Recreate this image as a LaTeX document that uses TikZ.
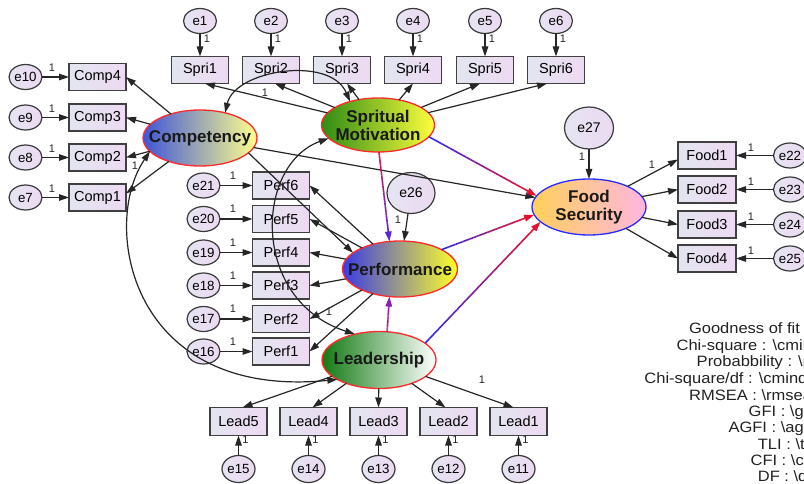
\documentclass[tikz,border=0pt]{standalone}
\usepackage{fontspec}
\setmainfont{Liberation Sans}
\newfontfamily\fitfont[FakeStretch=1.1]{Liberation Sans}
\usetikzlibrary{arrows.meta,shapes.geometric,calc}

\definecolor{boxL}{HTML}{E3E5F0}
\definecolor{boxR}{HTML}{EDDAF2}
\definecolor{boxdraw}{HTML}{404040}
\definecolor{errL}{HTML}{E6E4F2}
\definecolor{errR}{HTML}{EBDAF1}
\definecolor{errdraw}{HTML}{3A3A3A}
\definecolor{latred}{HTML}{FF2A2A}
\definecolor{fsblue}{HTML}{2A2AFF}
\definecolor{cmpL}{HTML}{3F55D8}
\definecolor{cmpR}{HTML}{FFFF8C}
\definecolor{spmL}{HTML}{2E8B14}
\definecolor{spmR}{HTML}{FFFF3C}
\definecolor{prfL}{HTML}{3A3AE6}
\definecolor{prfR}{HTML}{FFFF28}
\definecolor{ldrL}{HTML}{137A13}
\definecolor{ldrR}{HTML}{FFFFFF}
\definecolor{fsL}{HTML}{FFD05A}
\definecolor{fsM}{HTML}{FFA0A0}
\definecolor{fsR}{HTML}{FFB6E0}
\definecolor{gblue}{HTML}{2A2AF0}
\definecolor{gred}{HTML}{E8102E}
\definecolor{gcrim}{HTML}{D81848}
\definecolor{gviol}{HTML}{5A28E0}
\definecolor{gmag}{HTML}{B81878}
\definecolor{gpurp}{HTML}{8A20B0}
\definecolor{fittext}{HTML}{222222}

\tikzset{
  every node/.style={inner sep=0pt, outer sep=0pt},
  obs/.style={rectangle, draw=boxdraw, line width=1.5pt, minimum width=57pt, minimum height=27pt,
    left color=boxL, right color=boxR, font=\fontsize{14.5}{16}\selectfont},
  err/.style={ellipse, draw=errdraw, line width=1.2pt, minimum width=33pt, minimum height=25pt,
    inner xsep=-6pt, inner ysep=-4pt,
    left color=errL, right color=errR, font=\fontsize{13.3}{15}\selectfont},
  bigerr/.style={err, minimum width=48pt, minimum height=41pt, font=\fontsize{14}{16}\selectfont},
  lat/.style={ellipse, draw=latred, line width=1.3pt, minimum width=114pt, minimum height=56pt,
    inner xsep=-25pt, inner ysep=-15pt,
    font=\fontsize{17}{18}\selectfont\bfseries, align=center, text=black!90},
  arr/.style={line width=1.2pt, draw=black!85, -{Triangle[length=10pt,width=6.5pt]}},
  cov/.style={line width=1.2pt, draw=black!85, {Triangle[length=10pt,width=6.5pt]}-{Triangle[length=10pt,width=6.5pt]}},
  one/.style={font=\fontsize{11}{12}\selectfont, text=black!85},
  fitline/.style={font=\fitfont\fontsize{15}{16.6}\selectfont, text=fittext, anchor=base east},
}

\newcommand{\gradarrow}[5]{%
  \coordinate (ga) at (#1);
  \coordinate (gb) at ($(#2)!9pt!(#1)$);
  \foreach \gi in {0,...,23}{%
    \pgfmathsetmacro{\ta}{\gi/24}%
    \pgfmathsetmacro{\tb}{(\gi+1)/24}%
    \pgfmathtruncatemacro{\pc}{round(100*(\gi+0.5)/24)}%
    \draw[line width=1.6pt, color=#4!\pc!#3] ($(ga)!\ta!(gb)$) -- ($(ga)!\tb!(gb)$);
  }%
  \draw[line width=1.6pt, draw=#5, -{Triangle[length=10pt,width=6.5pt]}] ($(#2)!10.5pt!(#1)$) -- (#2);
}

\begin{document}
\begin{tikzpicture}[x=1pt,y=-1pt]
\useasboundingbox (0,0) rectangle (804,484);
\clip (0,0) rectangle (804,484);
\fill[white] (0,0) rectangle (804,484);

% ---------- latent variables ----------
\node[lat, left color=cmpL, right color=cmpR] (cmp) at (200,138) {Competency};
\node[lat, minimum width=113pt, minimum height=54pt, left color=spmL, right color=spmR] (spm) at (378,125) {Spritual\\Motivation};
\node[lat, minimum width=115pt, left color=prfL, right color=prfR] (prf) at (400,269) {Performance};
\node[lat, minimum height=57pt, left color=ldrL, right color=ldrR] (ldr) at (379,360) {Leadership};
\node[lat, draw=fsblue, left color=fsL, middle color=fsM, right color=fsR] (fsc) at (589,207) {Food\\Security};

\node[bigerr] (e26) at (411,193) {e26};
\node[bigerr, minimum width=49pt, minimum height=42pt] (e27) at (589,128) {e27};

% ---------- Spri ----------
\foreach \n/\x in {1/200,2/271,3/342,4/413,5/485,6/556}{
  \node[obs] (Spri\n) at (\x,70) {Spri\n};
  \node[err] (e\n) at (\x,21) {e\n};
  \draw[arr] (e\n) -- (Spri\n);
  \node[one] (l\n) at (\x+7,39) {1};
}

% ---------- Comp ----------
\foreach \n/\e/\y in {4/10/77,3/9/117.5,2/8/157.5,1/7/197.5}{
  \node[obs] (Comp\n) at (97.5,\y) {Comp\n};
  \node[err] (e\e) at (25.5,\y) {e\e};
  \draw[arr] (e\e) -- (Comp\n);
  \node[one] (l\e) at (52,\y-9) {1};
}

% ---------- Perf ----------
\foreach \n/\e/\y in {6/21/185.5,5/20/219,4/19/252.5,3/18/285.5,2/17/319,1/16/351.5}{
  \node[obs] (Perf\n) at (281,\y) {Perf\n};
  \node[err] (e\e) at (203.5,\y) {e\e};
  \draw[arr] (e\e) -- (Perf\n);
  \node[one] (l\e) at (233,\y-10) {1};
}

% ---------- Lead ----------
\foreach \n/\e/\x in {5/15/238.5,4/14/308.5,3/13/378.5,2/12/448.5,1/11/518.5}{
  \node[obs, minimum height=28pt] (Lead\n) at (\x,421.5) {Lead\n};
  \node[err, minimum height=27pt] (e\e) at (\x,469) {e\e};
  \draw[arr] (e\e) -- (Lead\n);
  \node[one] (l\e) at (\x+7,440) {1};
}

% ---------- Food ----------
\foreach \n/\e/\y in {1/22/155.5,2/23/189.5,3/24/224.5,4/25/258.5}{
  \node[obs, minimum width=58pt] (Food\n) at (707,\y) {Food\n};
  \node[err] (e\e) at (790,\y) {e\e};
  \draw[arr] (e\e) -- (Food\n);
  \node[one] (l\e) at (751,\y-8) {1};
}

% ---------- measurement paths ----------
\draw[arr] (spm) -- ([xshift=5pt]Spri1.south);
\draw[arr] (spm) -- ([xshift=4pt]Spri2.south);
\draw[arr] (spm) -- ([xshift=5pt]Spri3.south);
\draw[arr] (spm) -- (Spri4.south);
\draw[arr] (spm) -- ([xshift=-5pt]Spri5.south);
\draw[arr] (spm) -- ([xshift=-9pt]Spri6.south);

\draw[arr] (cmp) -- (Comp4.east);
\draw[arr] (cmp) -- (Comp3.east);
\draw[arr] (cmp) -- (Comp2.east);
\draw[arr] (cmp) -- ([yshift=4pt]Comp1.east);

\draw[arr] (prf) -- (Perf6.east);
\draw[arr] (prf) -- (Perf5.east);
\draw[arr] (prf) -- (Perf4.east);
\draw[arr] (prf) -- (Perf3.east);
\draw[arr] (prf) -- (Perf2.east);
\draw[arr] (prf) -- (Perf1.east);

\draw[arr] (ldr) -- ([xshift=4pt]Lead5.north);
\draw[arr] (ldr) -- ([xshift=4pt]Lead4.north);
\draw[arr] (ldr) -- (Lead3.north);
\draw[arr] (ldr) -- ([xshift=-3pt]Lead2.north);
\draw[arr] (ldr) -- ([xshift=-5pt]Lead1.north);

\draw[arr] (fsc) -- ([yshift=-4pt]Food1.west);
\draw[arr] (fsc) -- (Food2.west);
\draw[arr] (fsc) -- (Food3.west);
\draw[arr] (fsc) -- (Food4.west);

\draw[arr] (e26) -- (prf);
\draw[arr] (e27) -- (fsc);

% ---------- structural paths ----------
\draw[arr] (cmp.-17) -- (prf.161);
\draw[arr] (cmp) -- (fsc);
\gradarrow{spm.-88}{prf.111}{gcrim}{gviol}{gviol}
\gradarrow{spm.-13}{fsc.168}{gblue}{gred}{gred}
\gradarrow{prf.25}{fsc.188}{gblue}{gred}{gred}
\gradarrow{ldr.20}{fsc.197}{gblue}{gred}{gred}
\gradarrow{ldr.74}{prf.-111}{gmag}{gpurp}{gpurp}

% ---------- covariances ----------
\draw[cov] (cmp.45) .. controls (235,70) and (330,55) .. (spm.140);
\draw[cov] (cmp.195) .. controls (100,225) and (130,400) .. (ldr.205);
\draw[cov] (spm.195) .. controls (255,165) and (250,300) .. (ldr.133);

% ---------- loading labels ----------
\node[one] (l26) at (398,220) {1};
\node[one] (l27) at (582,157) {1};
\node[one] (lsp) at (265,93) {1};
\node[one] (lfs) at (652,165) {1};
\node[one] (lld) at (482,380) {1};
\node[one] (lpf) at (329,312) {1};
\node[one] (lcp) at (135,166) {1};

% ---------- fit text ----------
\node[font=\fitfont\fontsize{15}{16.6}\selectfont, text=fittext, anchor=base west] (fit0) at (689,333) {Goodness of fit};
\node[fitline] (fit1) at (812,350) {Chi-square : \textbackslash cmin};
\node[fitline] (fit2) at (812,366) {Probabbility : \textbackslash p};
\node[fitline] (fit3) at (812,383) {Chi-square/df : \textbackslash cmindf};
\node[fitline] (fit4) at (812,400) {RMSEA : \textbackslash rmsea};
\node[fitline] (fit5) at (812,416) {GFI : \textbackslash gfi};
\node[fitline] (fit6) at (812,432) {AGFI : \textbackslash agfi};
\node[fitline] (fit7) at (812,449) {TLI : \textbackslash tli};
\node[fitline] (fit8) at (812,465) {CFI : \textbackslash cfi};
\node[fitline] (fit9) at (812,481) {DF : \textbackslash df};
\end{tikzpicture}
\end{document}
